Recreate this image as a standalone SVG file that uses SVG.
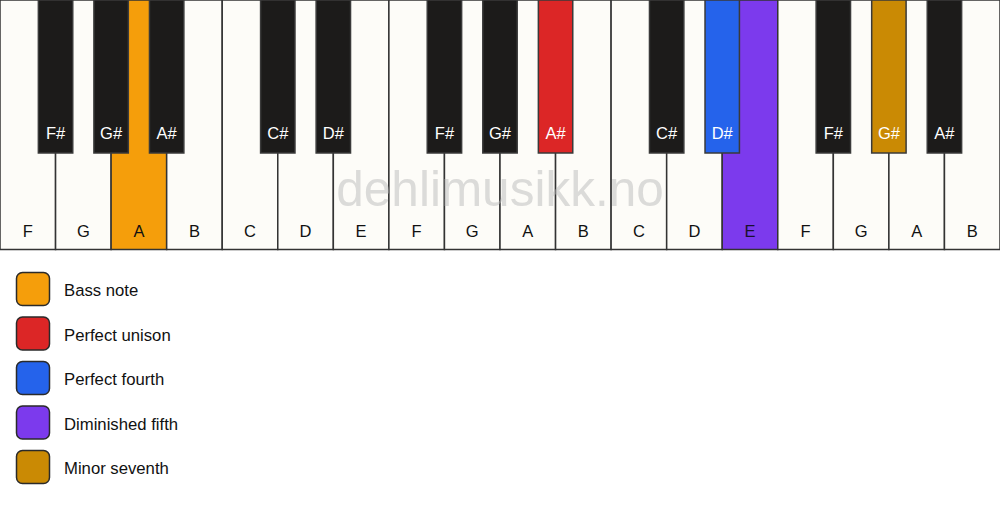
<svg xmlns="http://www.w3.org/2000/svg" width="1000" height="506" viewBox="0 0 1000 506">
<style>
.w{fill:#fdfcf8;stroke:#333;stroke-width:1.5}
.b{fill:#1c1b1a;stroke:#3a3a3a;stroke-width:1.5}
.t{font-family:"Liberation Sans",Arial,sans-serif;font-size:16.5px;text-anchor:middle}
.wt{fill:#111}
.bt{fill:#fff}
.lg{stroke:#2a2a2a;stroke-width:1.5}
.lt{font-family:"Liberation Sans",Arial,sans-serif;font-size:16.7px;fill:#111}
</style>
<rect x="0" y="0" width="1000" height="506" fill="#ffffff"/>
<g id="white-keys">
<g id="w0"><rect class="w" x="0" y="0" width="55.56" height="249.5"/><text class="t wt" x="27.78" y="237">F</text></g>
<g id="w1"><rect class="w" x="55.56" y="0" width="55.56" height="249.5"/><text class="t wt" x="83.33" y="237">G</text></g>
<g id="w2"><rect class="w" x="111.11" y="0" width="55.56" height="249.5" style="fill:#f59e0b"/><text class="t wt" x="138.89" y="237">A</text></g>
<g id="w3"><rect class="w" x="166.67" y="0" width="55.56" height="249.5"/><text class="t wt" x="194.44" y="237">B</text></g>
<g id="w4"><rect class="w" x="222.22" y="0" width="55.56" height="249.5"/><text class="t wt" x="250" y="237">C</text></g>
<g id="w5"><rect class="w" x="277.78" y="0" width="55.56" height="249.5"/><text class="t wt" x="305.56" y="237">D</text></g>
<g id="w6"><rect class="w" x="333.33" y="0" width="55.56" height="249.5"/><text class="t wt" x="361.11" y="237">E</text></g>
<g id="w7"><rect class="w" x="388.89" y="0" width="55.56" height="249.5"/><text class="t wt" x="416.67" y="237">F</text></g>
<g id="w8"><rect class="w" x="444.44" y="0" width="55.56" height="249.5"/><text class="t wt" x="472.22" y="237">G</text></g>
<g id="w9"><rect class="w" x="500" y="0" width="55.56" height="249.5"/><text class="t wt" x="527.78" y="237">A</text></g>
<g id="w10"><rect class="w" x="555.56" y="0" width="55.56" height="249.5"/><text class="t wt" x="583.33" y="237">B</text></g>
<g id="w11"><rect class="w" x="611.11" y="0" width="55.56" height="249.5"/><text class="t wt" x="638.89" y="237">C</text></g>
<g id="w12"><rect class="w" x="666.67" y="0" width="55.56" height="249.5"/><text class="t wt" x="694.44" y="237">D</text></g>
<g id="w13"><rect class="w" x="722.22" y="0" width="55.56" height="249.5" style="fill:#7c3aed"/><text class="t" x="750" y="237" fill="#1a1030">E</text></g>
<g id="w14"><rect class="w" x="777.78" y="0" width="55.56" height="249.5"/><text class="t wt" x="805.56" y="237">F</text></g>
<g id="w15"><rect class="w" x="833.33" y="0" width="55.56" height="249.5"/><text class="t wt" x="861.11" y="237">G</text></g>
<g id="w16"><rect class="w" x="888.89" y="0" width="55.56" height="249.5"/><text class="t wt" x="916.67" y="237">A</text></g>
<g id="w17"><rect class="w" x="944.44" y="0" width="55.56" height="249.5"/><text class="t wt" x="972.22" y="237">B</text></g>
</g>
<text id="watermark" x="500" y="206" text-anchor="middle" font-family="'Liberation Sans',Arial,sans-serif" font-size="49.5" fill="#b8b8b8" opacity="0.48">dehlimusikk.no</text>
<g id="black-keys">
<g id="b1"><rect class="b" x="38.36" y="0" width="34.4" height="153"/><text class="t bt" x="55.56" y="139">F#</text></g>
<g id="b2"><rect class="b" x="93.91" y="0" width="34.4" height="153"/><text class="t bt" x="111.11" y="139">G#</text></g>
<g id="b3"><rect class="b" x="149.47" y="0" width="34.4" height="153"/><text class="t bt" x="166.67" y="139">A#</text></g>
<g id="b5"><rect class="b" x="260.58" y="0" width="34.4" height="153"/><text class="t bt" x="277.78" y="139">C#</text></g>
<g id="b6"><rect class="b" x="316.13" y="0" width="34.4" height="153"/><text class="t bt" x="333.33" y="139">D#</text></g>
<g id="b8"><rect class="b" x="427.24" y="0" width="34.4" height="153"/><text class="t bt" x="444.44" y="139">F#</text></g>
<g id="b9"><rect class="b" x="482.8" y="0" width="34.4" height="153"/><text class="t bt" x="500" y="139">G#</text></g>
<g id="b10"><rect class="b" x="538.36" y="0" width="34.4" height="153" style="fill:#dc2626"/><text class="t bt" x="555.56" y="139">A#</text></g>
<g id="b12"><rect class="b" x="649.47" y="0" width="34.4" height="153"/><text class="t bt" x="666.67" y="139">C#</text></g>
<g id="b13"><rect class="b" x="705.02" y="0" width="34.4" height="153" style="fill:#2563eb"/><text class="t bt" x="722.22" y="139">D#</text></g>
<g id="b15"><rect class="b" x="816.13" y="0" width="34.4" height="153"/><text class="t bt" x="833.33" y="139">F#</text></g>
<g id="b16"><rect class="b" x="871.69" y="0" width="34.4" height="153" style="fill:#ca8a04"/><text class="t bt" x="888.89" y="139">G#</text></g>
<g id="b17"><rect class="b" x="927.24" y="0" width="34.4" height="153"/><text class="t bt" x="944.44" y="139">A#</text></g>
</g>
<g id="legend">
<g id="lg-bass"><rect class="lg" x="16.5" y="272.5" width="33" height="33" rx="6" fill="#f59e0b"/><text class="lt" x="64" y="296">Bass note</text></g>
<g id="lg-unison"><rect class="lg" x="16.5" y="317" width="33" height="33" rx="6" fill="#dc2626"/><text class="lt" x="64" y="340.5">Perfect unison</text></g>
<g id="lg-fourth"><rect class="lg" x="16.5" y="361.5" width="33" height="33" rx="6" fill="#2563eb"/><text class="lt" x="64" y="385">Perfect fourth</text></g>
<g id="lg-fifth"><rect class="lg" x="16.5" y="406" width="33" height="33" rx="6" fill="#7c3aed"/><text class="lt" x="64" y="429.5">Diminished fifth</text></g>
<g id="lg-seventh"><rect class="lg" x="16.5" y="450.5" width="33" height="33" rx="6" fill="#ca8a04"/><text class="lt" x="64" y="474">Minor seventh</text></g>
</g>
<g id="connectors"/>
</svg>
